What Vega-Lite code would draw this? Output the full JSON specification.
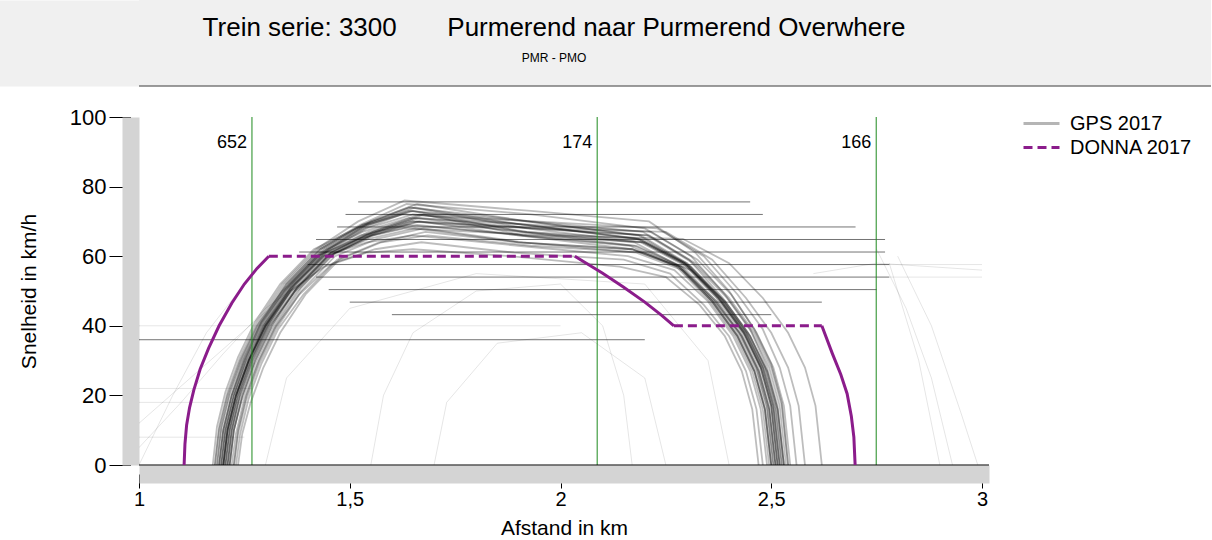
{
  "$schema": "https://vega.github.io/schema/vega-lite/v6.json",
  "padding": 0,
  "background": "white",
  "config": {"font": "Liberation Sans", "view": {"stroke": null}},
  "columns": 1,
  "spacing": 19,
  "resolve": {"scale": {"color": "independent", "strokeDash": "independent"}, "legend": {"color": "independent", "strokeDash": "independent"}},
  "datasets": {
    "donnaSolid": [
      {"seg":"a","x":1.107,"v":0},{"seg":"a","x":1.109,"v":6},{"seg":"a","x":1.113,"v":11.5},{"seg":"a","x":1.12,"v":16.5},{"seg":"a","x":1.13,"v":21.5},{"seg":"a","x":1.145,"v":27.5},{"seg":"a","x":1.165,"v":33.5},{"seg":"a","x":1.19,"v":40},{"seg":"a","x":1.22,"v":46.5},{"seg":"a","x":1.25,"v":52},{"seg":"a","x":1.28,"v":56.5},{"seg":"a","x":1.308,"v":60},
      {"seg":"c","x":2.034,"v":60},{"seg":"c","x":2.1,"v":55.1},{"seg":"c","x":2.15,"v":51.1},{"seg":"c","x":2.2,"v":46.8},{"seg":"c","x":2.24,"v":43},{"seg":"c","x":2.269,"v":40},
      {"seg":"e","x":2.62,"v":40},{"seg":"e","x":2.645,"v":32},{"seg":"e","x":2.665,"v":26},{"seg":"e","x":2.68,"v":20.5},{"seg":"e","x":2.69,"v":14},{"seg":"e","x":2.696,"v":8},{"seg":"e","x":2.699,"v":0}
    ],
    "donnaDash": [
      {"series":"DONNA 2017","seg":"b","x":1.308,"v":60},{"series":"DONNA 2017","seg":"b","x":2.034,"v":60},
      {"series":"DONNA 2017","seg":"d","x":2.269,"v":40},{"series":"DONNA 2017","seg":"d","x":2.62,"v":40}
    ],
    "legendGps": [{"series":"GPS 2017","x":1.5,"v":50}],
    "markers": [{"x":1.268,"label":"652"},{"x":2.087,"label":"174"},{"x":2.749,"label":"166"}],
    "flat": [
      {"t":"f1","x":1.52,"v":75.6},{"t":"f1","x":2.45,"v":75.6},
      {"t":"f2","x":1.49,"v":72},{"t":"f2","x":2.48,"v":72},
      {"t":"f3","x":1.47,"v":68.4},{"t":"f3","x":2.7,"v":68.4},
      {"t":"f4","x":1.42,"v":64.8},{"t":"f4","x":2.77,"v":64.8},
      {"t":"f5","x":1.38,"v":61.2},{"t":"f5","x":2.77,"v":61.2},
      {"t":"f6","x":1.4,"v":57.6},{"t":"f6","x":2.78,"v":57.6},
      {"t":"f7","x":1.42,"v":54},{"t":"f7","x":2.78,"v":54},
      {"t":"f8","x":1.45,"v":50.4},{"t":"f8","x":2.75,"v":50.4},
      {"t":"f9","x":1.5,"v":46.8},{"t":"f9","x":2.62,"v":46.8},
      {"t":"f10","x":1.6,"v":43.2},{"t":"f10","x":2.5,"v":43.2},
      {"t":"f11","x":1.0,"v":36},{"t":"f11","x":2.2,"v":36}
    ],
    "noise": [
      {"t":"n1","x":1.0,"v":5},{"t":"n1","x":1.1,"v":18},{"t":"n1","x":1.2,"v":32},{"t":"n1","x":1.3,"v":45},{"t":"n1","x":1.45,"v":58},
      {"t":"n2","x":1.0,"v":12},{"t":"n2","x":1.15,"v":28},{"t":"n2","x":1.3,"v":44},
      {"t":"n3","x":1.0,"v":0},{"t":"n3","x":1.08,"v":20},{"t":"n3","x":1.16,"v":38},{"t":"n3","x":1.25,"v":52},
      {"t":"n4","x":2.75,"v":62},{"t":"n4","x":2.82,"v":45},{"t":"n4","x":2.88,"v":25},{"t":"n4","x":2.93,"v":0},
      {"t":"n5","x":2.8,"v":60},{"t":"n5","x":2.88,"v":40},{"t":"n5","x":2.95,"v":15},{"t":"n5","x":2.99,"v":0},
      {"t":"n6","x":2.78,"v":58},{"t":"n6","x":2.85,"v":30},{"t":"n6","x":2.9,"v":0},
      {"t":"n7","x":1.55,"v":0},{"t":"n7","x":1.58,"v":20},{"t":"n7","x":1.65,"v":38},{"t":"n7","x":1.8,"v":50},{"t":"n7","x":2.0,"v":52},{"t":"n7","x":2.1,"v":40},{"t":"n7","x":2.15,"v":20},{"t":"n7","x":2.17,"v":0},
      {"t":"n8","x":1.7,"v":0},{"t":"n8","x":1.73,"v":18},{"t":"n8","x":1.85,"v":35},{"t":"n8","x":2.05,"v":38},{"t":"n8","x":2.2,"v":25},{"t":"n8","x":2.25,"v":0},
      {"t":"n9","x":1.3,"v":0},{"t":"n9","x":1.35,"v":25},{"t":"n9","x":1.5,"v":45},{"t":"n9","x":1.8,"v":55},{"t":"n9","x":2.2,"v":52},{"t":"n9","x":2.35,"v":30},{"t":"n9","x":2.4,"v":0},
      {"t":"n10","x":2.78,"v":57.6},{"t":"n10","x":3.0,"v":57.6},
      {"t":"n11","x":2.78,"v":54},{"t":"n11","x":3.0,"v":54},
      {"t":"n12","x":1.0,"v":22},{"t":"n12","x":1.27,"v":22},
      {"t":"n13","x":1.0,"v":18},{"t":"n13","x":1.27,"v":18},
      {"t":"n14","x":1.0,"v":8},{"t":"n14","x":1.25,"v":8},
      {"t":"n15","x":2.6,"v":55},{"t":"n15","x":2.75,"v":58},{"t":"n15","x":3.0,"v":56},
      {"t":"n16","x":1.0,"v":40},{"t":"n16","x":1.5,"v":40},{"t":"n16","x":2.0,"v":40}
    ],
    "gps": [
      {"t":1,"x":1.195,"v":0},{"t":1,"x":1.205,"v":10},{"t":1,"x":1.225,"v":20},{"t":1,"x":1.255,"v":30},{"t":1,"x":1.295,"v":40},{"t":1,"x":1.355,"v":51},{"t":1,"x":1.435,"v":61},{"t":1,"x":1.535,"v":68},{"t":1,"x":1.645,"v":73},{"t":1,"x":1.92,"v":70},{"t":1,"x":2.185,"v":66},{"t":1,"x":2.295,"v":58},{"t":1,"x":2.375,"v":48},{"t":1,"x":2.435,"v":38},{"t":1,"x":2.475,"v":28},{"t":1,"x":2.5,"v":17},{"t":1,"x":2.515,"v":0},
      {"t":2,"x":1.205,"v":0},{"t":2,"x":1.215,"v":10},{"t":2,"x":1.235,"v":20},{"t":2,"x":1.265,"v":30},{"t":2,"x":1.305,"v":40},{"t":2,"x":1.365,"v":51},{"t":2,"x":1.445,"v":61},{"t":2,"x":1.545,"v":67},{"t":2,"x":1.655,"v":71},{"t":2,"x":1.9,"v":67},{"t":2,"x":2.175,"v":64},{"t":2,"x":2.285,"v":57},{"t":2,"x":2.365,"v":47},{"t":2,"x":2.425,"v":38},{"t":2,"x":2.465,"v":28},{"t":2,"x":2.49,"v":17},{"t":2,"x":2.505,"v":0},
      {"t":3,"x":1.185,"v":0},{"t":3,"x":1.195,"v":11},{"t":3,"x":1.215,"v":21},{"t":3,"x":1.245,"v":31},{"t":3,"x":1.285,"v":41},{"t":3,"x":1.345,"v":52},{"t":3,"x":1.425,"v":62},{"t":3,"x":1.525,"v":69},{"t":3,"x":1.635,"v":75},{"t":3,"x":1.93,"v":72},{"t":3,"x":2.2,"v":68},{"t":3,"x":2.31,"v":60},{"t":3,"x":2.39,"v":49},{"t":3,"x":2.45,"v":39},{"t":3,"x":2.49,"v":28},{"t":3,"x":2.515,"v":17},{"t":3,"x":2.53,"v":0},
      {"t":4,"x":1.215,"v":0},{"t":4,"x":1.225,"v":10},{"t":4,"x":1.245,"v":19},{"t":4,"x":1.275,"v":29},{"t":4,"x":1.315,"v":39},{"t":4,"x":1.375,"v":50},{"t":4,"x":1.455,"v":60},{"t":4,"x":1.555,"v":66},{"t":4,"x":1.665,"v":70},{"t":4,"x":1.9,"v":66},{"t":4,"x":2.17,"v":62},{"t":4,"x":2.28,"v":57},{"t":4,"x":2.36,"v":47},{"t":4,"x":2.42,"v":37},{"t":4,"x":2.46,"v":27},{"t":4,"x":2.485,"v":16},{"t":4,"x":2.5,"v":0},
      {"t":5,"x":1.2,"v":0},{"t":5,"x":1.21,"v":10},{"t":5,"x":1.23,"v":20},{"t":5,"x":1.26,"v":30},{"t":5,"x":1.3,"v":40},{"t":5,"x":1.36,"v":51},{"t":5,"x":1.44,"v":61},{"t":5,"x":1.54,"v":68},{"t":5,"x":1.65,"v":72},{"t":5,"x":1.92,"v":69},{"t":5,"x":2.19,"v":65},{"t":5,"x":2.3,"v":58},{"t":5,"x":2.38,"v":48},{"t":5,"x":2.44,"v":38},{"t":5,"x":2.48,"v":28},{"t":5,"x":2.505,"v":17},{"t":5,"x":2.52,"v":0},
      {"t":6,"x":1.19,"v":0},{"t":6,"x":1.2,"v":10},{"t":6,"x":1.22,"v":20},{"t":6,"x":1.25,"v":31},{"t":6,"x":1.29,"v":41},{"t":6,"x":1.35,"v":52},{"t":6,"x":1.43,"v":62},{"t":6,"x":1.53,"v":69},{"t":6,"x":1.64,"v":74},{"t":6,"x":1.93,"v":70},{"t":6,"x":2.195,"v":67},{"t":6,"x":2.305,"v":59},{"t":6,"x":2.385,"v":48},{"t":6,"x":2.445,"v":38},{"t":6,"x":2.485,"v":28},{"t":6,"x":2.51,"v":17},{"t":6,"x":2.525,"v":0},
      {"t":7,"x":1.21,"v":0},{"t":7,"x":1.22,"v":10},{"t":7,"x":1.24,"v":20},{"t":7,"x":1.27,"v":30},{"t":7,"x":1.31,"v":40},{"t":7,"x":1.37,"v":50},{"t":7,"x":1.45,"v":60},{"t":7,"x":1.55,"v":66},{"t":7,"x":1.66,"v":69},{"t":7,"x":1.9,"v":66},{"t":7,"x":2.165,"v":63},{"t":7,"x":2.275,"v":57},{"t":7,"x":2.355,"v":47},{"t":7,"x":2.415,"v":37},{"t":7,"x":2.455,"v":27},{"t":7,"x":2.48,"v":16},{"t":7,"x":2.495,"v":0},
      {"t":8,"x":1.225,"v":0},{"t":8,"x":1.235,"v":9},{"t":8,"x":1.255,"v":19},{"t":8,"x":1.285,"v":29},{"t":8,"x":1.325,"v":39},{"t":8,"x":1.385,"v":50},{"t":8,"x":1.465,"v":60},{"t":8,"x":1.565,"v":65},{"t":8,"x":1.675,"v":68},{"t":8,"x":1.91,"v":64},{"t":8,"x":2.18,"v":61},{"t":8,"x":2.29,"v":56},{"t":8,"x":2.37,"v":47},{"t":8,"x":2.43,"v":37},{"t":8,"x":2.47,"v":27},{"t":8,"x":2.495,"v":16},{"t":8,"x":2.51,"v":0},
      {"t":9,"x":1.18,"v":0},{"t":9,"x":1.19,"v":11},{"t":9,"x":1.21,"v":21},{"t":9,"x":1.24,"v":31},{"t":9,"x":1.28,"v":41},{"t":9,"x":1.34,"v":52},{"t":9,"x":1.42,"v":62},{"t":9,"x":1.52,"v":70},{"t":9,"x":1.63,"v":76},{"t":9,"x":1.93,"v":73},{"t":9,"x":2.21,"v":70},{"t":9,"x":2.32,"v":61},{"t":9,"x":2.4,"v":50},{"t":9,"x":2.46,"v":39},{"t":9,"x":2.5,"v":29},{"t":9,"x":2.525,"v":18},{"t":9,"x":2.54,"v":0},
      {"t":10,"x":1.2,"v":0},{"t":10,"x":1.21,"v":10},{"t":10,"x":1.23,"v":20},{"t":10,"x":1.26,"v":30},{"t":10,"x":1.3,"v":40},{"t":10,"x":1.36,"v":51},{"t":10,"x":1.44,"v":60},{"t":10,"x":1.54,"v":64},{"t":10,"x":1.65,"v":66},{"t":10,"x":1.9,"v":63},{"t":10,"x":2.16,"v":60},{"t":10,"x":2.27,"v":56},{"t":10,"x":2.35,"v":47},{"t":10,"x":2.41,"v":37},{"t":10,"x":2.45,"v":27},{"t":10,"x":2.475,"v":16},{"t":10,"x":2.49,"v":0},
      {"t":11,"x":1.195,"v":0},{"t":11,"x":1.205,"v":10},{"t":11,"x":1.225,"v":20},{"t":11,"x":1.255,"v":30},{"t":11,"x":1.295,"v":40},{"t":11,"x":1.355,"v":50},{"t":11,"x":1.435,"v":60},{"t":11,"x":1.535,"v":66},{"t":11,"x":1.645,"v":70},{"t":11,"x":1.93,"v":68},{"t":11,"x":2.205,"v":66},{"t":11,"x":2.315,"v":58},{"t":11,"x":2.395,"v":48},{"t":11,"x":2.455,"v":38},{"t":11,"x":2.495,"v":28},{"t":11,"x":2.52,"v":17},{"t":11,"x":2.535,"v":0},
      {"t":12,"x":1.215,"v":0},{"t":12,"x":1.225,"v":10},{"t":12,"x":1.245,"v":20},{"t":12,"x":1.275,"v":30},{"t":12,"x":1.315,"v":40},{"t":12,"x":1.375,"v":51},{"t":12,"x":1.455,"v":61},{"t":12,"x":1.555,"v":67},{"t":12,"x":1.665,"v":72},{"t":12,"x":1.92,"v":67},{"t":12,"x":2.19,"v":64},{"t":12,"x":2.3,"v":57},{"t":12,"x":2.38,"v":47},{"t":12,"x":2.44,"v":37},{"t":12,"x":2.48,"v":27},{"t":12,"x":2.505,"v":16},{"t":12,"x":2.52,"v":0},
      {"t":13,"x":1.205,"v":0},{"t":13,"x":1.215,"v":10},{"t":13,"x":1.235,"v":21},{"t":13,"x":1.265,"v":31},{"t":13,"x":1.305,"v":41},{"t":13,"x":1.365,"v":52},{"t":13,"x":1.445,"v":62},{"t":13,"x":1.545,"v":69},{"t":13,"x":1.655,"v":74},{"t":13,"x":1.91,"v":69},{"t":13,"x":2.18,"v":65},{"t":13,"x":2.29,"v":58},{"t":13,"x":2.37,"v":48},{"t":13,"x":2.43,"v":38},{"t":13,"x":2.47,"v":28},{"t":13,"x":2.495,"v":17},{"t":13,"x":2.51,"v":0},
      {"t":14,"x":1.23,"v":0},{"t":14,"x":1.24,"v":9},{"t":14,"x":1.26,"v":19},{"t":14,"x":1.29,"v":29},{"t":14,"x":1.33,"v":39},{"t":14,"x":1.39,"v":49},{"t":14,"x":1.47,"v":59},{"t":14,"x":1.57,"v":64},{"t":14,"x":1.68,"v":67},{"t":14,"x":1.9,"v":64},{"t":14,"x":2.17,"v":62},{"t":14,"x":2.28,"v":57},{"t":14,"x":2.36,"v":47},{"t":14,"x":2.42,"v":37},{"t":14,"x":2.46,"v":27},{"t":14,"x":2.485,"v":16},{"t":14,"x":2.5,"v":0},
      {"t":15,"x":1.19,"v":0},{"t":15,"x":1.2,"v":10},{"t":15,"x":1.22,"v":20},{"t":15,"x":1.25,"v":30},{"t":15,"x":1.29,"v":40},{"t":15,"x":1.35,"v":51},{"t":15,"x":1.43,"v":61},{"t":15,"x":1.53,"v":67},{"t":15,"x":1.64,"v":71},{"t":15,"x":1.94,"v":69},{"t":15,"x":2.215,"v":67},{"t":15,"x":2.325,"v":59},{"t":15,"x":2.405,"v":49},{"t":15,"x":2.465,"v":38},{"t":15,"x":2.505,"v":28},{"t":15,"x":2.53,"v":17},{"t":15,"x":2.545,"v":0},
      {"t":16,"x":1.2,"v":0},{"t":16,"x":1.21,"v":10},{"t":16,"x":1.23,"v":20},{"t":16,"x":1.26,"v":30},{"t":16,"x":1.3,"v":41},{"t":16,"x":1.36,"v":52},{"t":16,"x":1.44,"v":62},{"t":16,"x":1.54,"v":69},{"t":16,"x":1.65,"v":73},{"t":16,"x":1.91,"v":67},{"t":16,"x":2.175,"v":63},{"t":16,"x":2.285,"v":57},{"t":16,"x":2.365,"v":47},{"t":16,"x":2.425,"v":37},{"t":16,"x":2.465,"v":27},{"t":16,"x":2.49,"v":16},{"t":16,"x":2.505,"v":0},
      {"t":17,"x":1.21,"v":0},{"t":17,"x":1.22,"v":10},{"t":17,"x":1.24,"v":21},{"t":17,"x":1.27,"v":31},{"t":17,"x":1.31,"v":41},{"t":17,"x":1.37,"v":52},{"t":17,"x":1.45,"v":62},{"t":17,"x":1.55,"v":70},{"t":17,"x":1.66,"v":75},{"t":17,"x":1.92,"v":70},{"t":17,"x":2.19,"v":66},{"t":17,"x":2.3,"v":58},{"t":17,"x":2.38,"v":48},{"t":17,"x":2.44,"v":38},{"t":17,"x":2.48,"v":28},{"t":17,"x":2.505,"v":17},{"t":17,"x":2.52,"v":0},
      {"t":18,"x":1.185,"v":0},{"t":18,"x":1.195,"v":10},{"t":18,"x":1.215,"v":20},{"t":18,"x":1.245,"v":30},{"t":18,"x":1.285,"v":40},{"t":18,"x":1.345,"v":50},{"t":18,"x":1.425,"v":60},{"t":18,"x":1.525,"v":66},{"t":18,"x":1.635,"v":69},{"t":18,"x":1.92,"v":66},{"t":18,"x":2.2,"v":64},{"t":18,"x":2.31,"v":57},{"t":18,"x":2.39,"v":47},{"t":18,"x":2.45,"v":37},{"t":18,"x":2.49,"v":27},{"t":18,"x":2.515,"v":16},{"t":18,"x":2.53,"v":0},
      {"t":19,"x":1.22,"v":0},{"t":19,"x":1.23,"v":9},{"t":19,"x":1.25,"v":19},{"t":19,"x":1.28,"v":29},{"t":19,"x":1.32,"v":39},{"t":19,"x":1.38,"v":49},{"t":19,"x":1.46,"v":58},{"t":19,"x":1.56,"v":62},{"t":19,"x":1.67,"v":64},{"t":19,"x":1.89,"v":61},{"t":19,"x":2.15,"v":59},{"t":19,"x":2.26,"v":55},{"t":19,"x":2.34,"v":46},{"t":19,"x":2.4,"v":37},{"t":19,"x":2.44,"v":27},{"t":19,"x":2.465,"v":16},{"t":19,"x":2.48,"v":0},
      {"t":20,"x":1.2,"v":0},{"t":20,"x":1.21,"v":10},{"t":20,"x":1.23,"v":20},{"t":20,"x":1.26,"v":30},{"t":20,"x":1.3,"v":40},{"t":20,"x":1.36,"v":50},{"t":20,"x":1.44,"v":60},{"t":20,"x":1.54,"v":66},{"t":20,"x":1.65,"v":70},{"t":20,"x":1.92,"v":67},{"t":20,"x":2.185,"v":65},{"t":20,"x":2.295,"v":58},{"t":20,"x":2.375,"v":48},{"t":20,"x":2.435,"v":38},{"t":20,"x":2.475,"v":28},{"t":20,"x":2.5,"v":17},{"t":20,"x":2.515,"v":0},
      {"t":21,"x":1.235,"v":0},{"t":21,"x":1.245,"v":9},{"t":21,"x":1.265,"v":18},{"t":21,"x":1.295,"v":28},{"t":21,"x":1.335,"v":38},{"t":21,"x":1.395,"v":49},{"t":21,"x":1.475,"v":59},{"t":21,"x":1.575,"v":64},{"t":21,"x":1.685,"v":66},{"t":21,"x":1.93,"v":63},{"t":21,"x":2.2,"v":61},{"t":21,"x":2.31,"v":56},{"t":21,"x":2.39,"v":47},{"t":21,"x":2.45,"v":37},{"t":21,"x":2.49,"v":27},{"t":21,"x":2.515,"v":16},{"t":21,"x":2.53,"v":0},
      {"t":22,"x":1.175,"v":0},{"t":22,"x":1.185,"v":11},{"t":22,"x":1.205,"v":21},{"t":22,"x":1.235,"v":31},{"t":22,"x":1.275,"v":41},{"t":22,"x":1.335,"v":52},{"t":22,"x":1.415,"v":62},{"t":22,"x":1.515,"v":68},{"t":22,"x":1.625,"v":72},{"t":22,"x":1.94,"v":70},{"t":22,"x":2.23,"v":68},{"t":22,"x":2.34,"v":60},{"t":22,"x":2.42,"v":49},{"t":22,"x":2.48,"v":39},{"t":22,"x":2.52,"v":28},{"t":22,"x":2.545,"v":17},{"t":22,"x":2.56,"v":0},
      {"t":23,"x":1.205,"v":0},{"t":23,"x":1.215,"v":10},{"t":23,"x":1.235,"v":20},{"t":23,"x":1.265,"v":30},{"t":23,"x":1.305,"v":40},{"t":23,"x":1.365,"v":50},{"t":23,"x":1.445,"v":60},{"t":23,"x":1.545,"v":65},{"t":23,"x":1.655,"v":68},{"t":23,"x":1.9,"v":64},{"t":23,"x":2.17,"v":62},{"t":23,"x":2.28,"v":57},{"t":23,"x":2.36,"v":47},{"t":23,"x":2.42,"v":37},{"t":23,"x":2.46,"v":27},{"t":23,"x":2.485,"v":16},{"t":23,"x":2.5,"v":0},
      {"t":24,"x":1.195,"v":0},{"t":24,"x":1.205,"v":10},{"t":24,"x":1.225,"v":20},{"t":24,"x":1.255,"v":31},{"t":24,"x":1.295,"v":41},{"t":24,"x":1.355,"v":52},{"t":24,"x":1.435,"v":62},{"t":24,"x":1.535,"v":69},{"t":24,"x":1.645,"v":74},{"t":24,"x":1.92,"v":68},{"t":24,"x":2.195,"v":64},{"t":24,"x":2.305,"v":57},{"t":24,"x":2.385,"v":47},{"t":24,"x":2.445,"v":37},{"t":24,"x":2.485,"v":27},{"t":24,"x":2.51,"v":16},{"t":24,"x":2.525,"v":0},
      {"t":25,"x":1.215,"v":0},{"t":25,"x":1.225,"v":10},{"t":25,"x":1.245,"v":20},{"t":25,"x":1.275,"v":30},{"t":25,"x":1.315,"v":40},{"t":25,"x":1.375,"v":51},{"t":25,"x":1.455,"v":61},{"t":25,"x":1.555,"v":67},{"t":25,"x":1.665,"v":71},{"t":25,"x":1.93,"v":68},{"t":25,"x":2.21,"v":66},{"t":25,"x":2.32,"v":58},{"t":25,"x":2.4,"v":48},{"t":25,"x":2.46,"v":38},{"t":25,"x":2.5,"v":28},{"t":25,"x":2.525,"v":17},{"t":25,"x":2.54,"v":0},
      {"t":26,"x":1.2,"v":0},{"t":26,"x":1.21,"v":10},{"t":26,"x":1.23,"v":20},{"t":26,"x":1.26,"v":30},{"t":26,"x":1.3,"v":40},{"t":26,"x":1.36,"v":50},{"t":26,"x":1.44,"v":57},{"t":26,"x":1.54,"v":61},{"t":26,"x":1.65,"v":62},{"t":26,"x":1.88,"v":60},{"t":26,"x":2.14,"v":57},{"t":26,"x":2.25,"v":54},{"t":26,"x":2.33,"v":46},{"t":26,"x":2.39,"v":37},{"t":26,"x":2.43,"v":27},{"t":26,"x":2.455,"v":16},{"t":26,"x":2.47,"v":0},
      {"t":27,"x":1.19,"v":0},{"t":27,"x":1.2,"v":10},{"t":27,"x":1.22,"v":20},{"t":27,"x":1.25,"v":30},{"t":27,"x":1.29,"v":41},{"t":27,"x":1.35,"v":52},{"t":27,"x":1.43,"v":62},{"t":27,"x":1.53,"v":69},{"t":27,"x":1.64,"v":73},{"t":27,"x":1.92,"v":69},{"t":27,"x":2.185,"v":65},{"t":27,"x":2.295,"v":58},{"t":27,"x":2.375,"v":48},{"t":27,"x":2.435,"v":38},{"t":27,"x":2.475,"v":28},{"t":27,"x":2.5,"v":17},{"t":27,"x":2.515,"v":0},
      {"t":28,"x":1.21,"v":0},{"t":28,"x":1.22,"v":10},{"t":28,"x":1.24,"v":20},{"t":28,"x":1.27,"v":30},{"t":28,"x":1.31,"v":40},{"t":28,"x":1.37,"v":50},{"t":28,"x":1.45,"v":60},{"t":28,"x":1.55,"v":66},{"t":28,"x":1.66,"v":70},{"t":28,"x":1.95,"v":68},{"t":28,"x":2.25,"v":67},{"t":28,"x":2.36,"v":59},{"t":28,"x":2.44,"v":48},{"t":28,"x":2.5,"v":38},{"t":28,"x":2.54,"v":28},{"t":28,"x":2.565,"v":17},{"t":28,"x":2.58,"v":0},
      {"t":29,"x":1.225,"v":0},{"t":29,"x":1.235,"v":10},{"t":29,"x":1.255,"v":20},{"t":29,"x":1.285,"v":30},{"t":29,"x":1.325,"v":40},{"t":29,"x":1.385,"v":51},{"t":29,"x":1.465,"v":61},{"t":29,"x":1.565,"v":67},{"t":29,"x":1.675,"v":72},{"t":29,"x":1.91,"v":66},{"t":29,"x":2.18,"v":63},{"t":29,"x":2.29,"v":57},{"t":29,"x":2.37,"v":47},{"t":29,"x":2.43,"v":37},{"t":29,"x":2.47,"v":27},{"t":29,"x":2.495,"v":16},{"t":29,"x":2.51,"v":0},
      {"t":30,"x":1.18,"v":0},{"t":30,"x":1.19,"v":10},{"t":30,"x":1.21,"v":20},{"t":30,"x":1.24,"v":30},{"t":30,"x":1.28,"v":40},{"t":30,"x":1.34,"v":50},{"t":30,"x":1.42,"v":60},{"t":30,"x":1.52,"v":65},{"t":30,"x":1.63,"v":68},{"t":30,"x":1.96,"v":66},{"t":30,"x":2.29,"v":65},{"t":30,"x":2.4,"v":58},{"t":30,"x":2.48,"v":48},{"t":30,"x":2.54,"v":38},{"t":30,"x":2.58,"v":28},{"t":30,"x":2.605,"v":17},{"t":30,"x":2.62,"v":0}
    ]
  },
  "concat": [
    {
      "width": 1072,
      "height": 86,
      "view": {"fill": "#f0f0f0", "stroke": null},
      "title": {
        "text": "Trein serie: 3300\u00a0\u00a0\u00a0\u00a0\u00a0\u00a0\u00a0Purmerend naar Purmerend Overwhere",
        "subtitle": "PMR - PMO",
        "anchor": "middle",
        "frame": "group",
        "dx": -121,
        "offset": -64,
        "font": "Liberation Sans",
        "fontSize": 26,
        "fontWeight": "normal",
        "color": "#000000",
        "subtitleFont": "Liberation Sans",
        "subtitleFontSize": 12,
        "subtitleColor": "#000000",
        "subtitlePadding": 12
      },
      "data": {"values": [{"k": 1}]},
      "mark": {"type": "rule", "color": "#7a7a7a", "strokeWidth": 1.5},
      "encoding": {
        "y": {"datum": 0, "type": "quantitative", "scale": {"domain": [0, 86]},
          "axis": {"orient": "left", "offset": 70, "domainWidth": 140, "domainColor": "#f0f0f0", "ticks": false, "labels": false, "title": null, "grid": false}}
      }
    },
    {
      "width": 850,
      "height": 348,
      "layer": [
        {
          "data": {"name": "noise"},
          "mark": {"type": "line", "color": "#000000", "opacity": 0.1, "strokeWidth": 1, "clip": true},
          "encoding": {
            "x": {"field": "x", "type": "quantitative",
              "scale": {"domain": [1, 3.0166], "nice": false, "zero": false},
              "axis": {"values": [1, 1.5, 2, 2.5, 3], "format": "~g", "labelExpr": "replace(datum.label, '.', ',')",
                "title": "Afstand in km", "offset": 9, "domainWidth": 18, "domainColor": "#d4d4d4",
                "tickSize": 14, "tickColor": "#000000", "tickWidth": 1,
                "labelFontSize": 20, "labelColor": "#000000", "labelPadding": 1, "labelFlush": false,
                "titleFontSize": 21, "titleFontWeight": "normal", "titleColor": "#000000", "titlePadding": 8, "grid": false}},
            "y": {"field": "v", "type": "quantitative",
              "scale": {"domain": [0, 100], "nice": false, "zero": false},
              "axis": {"values": [0, 20, 40, 60, 80, 100], "title": ["\u00a0", "Snelheid in km/h"],
                "offset": 8.5, "domainWidth": 17, "domainColor": "#d4d4d4",
                "tickSize": 21.5, "tickColor": "#000000", "tickWidth": 1,
                "labelFontSize": 22, "labelColor": "#000000", "labelPadding": 3,
                "titleFontSize": 21, "titleFontWeight": "normal", "titleColor": "#000000", "titlePadding": 30, "titleLineHeight": 18, "grid": false}},
            "detail": {"field": "t"}
          }
        },
        {
          "data": {"name": "flat"},
          "mark": {"type": "line", "color": "#000000", "opacity": 0.55, "strokeWidth": 1, "clip": true},
          "encoding": {
            "x": {"field": "x", "type": "quantitative"},
            "y": {"field": "v", "type": "quantitative"},
            "detail": {"field": "t"}
          }
        },
        {
          "data": {"name": "gps"},
          "mark": {"type": "line", "color": "#000000", "opacity": 0.26, "strokeWidth": 1.8, "clip": true},
          "encoding": {
            "x": {"field": "x", "type": "quantitative"},
            "y": {"field": "v", "type": "quantitative"},
            "detail": {"field": "t"}
          }
        },
        {
          "data": {"name": "markers"},
          "mark": {"type": "rule", "color": "#1e8a1e", "strokeWidth": 1},
          "encoding": {
            "x": {"field": "x", "type": "quantitative"}
          }
        },
        {
          "data": {"name": "markers"},
          "mark": {"type": "text", "align": "right", "baseline": "middle", "dx": -5, "fontSize": 18, "color": "#000000"},
          "encoding": {
            "x": {"field": "x", "type": "quantitative"},
            "y": {"datum": 92.5, "type": "quantitative"},
            "text": {"field": "label"}
          }
        },
        {
          "data": {"values": [{"k": 1}]},
          "mark": {"type": "rule", "color": "#000000", "strokeWidth": 1.2},
          "encoding": {
            "y": {"datum": 0, "type": "quantitative"}
          }
        },
        {
          "data": {"name": "donnaSolid"},
          "mark": {"type": "line", "color": "#8b1c8b", "strokeWidth": 3},
          "encoding": {
            "x": {"field": "x", "type": "quantitative"},
            "y": {"field": "v", "type": "quantitative"},
            "detail": {"field": "seg"}
          }
        },
        {
          "data": {"name": "donnaDash"},
          "mark": {"type": "line", "strokeWidth": 3},
          "encoding": {
            "x": {"field": "x", "type": "quantitative"},
            "y": {"field": "v", "type": "quantitative"},
            "detail": {"field": "seg"},
            "color": {"field": "series", "type": "nominal",
              "scale": {"domain": ["GPS 2017", "DONNA 2017"], "range": ["#b5b5b5", "#8b1c8b"]},
              "legend": {"title": null, "orient": "none", "legendX": 889, "legendY": -7, "labelFontSize": 20, "labelColor": "#000000", "symbolSize": 576, "symbolStrokeWidth": 3, "labelOffset": 15, "rowPadding": 0, "symbolType": "M-1.5,0H1.5"}},
            "strokeDash": {"field": "series", "type": "nominal",
              "scale": {"domain": ["GPS 2017", "DONNA 2017"], "range": [[1, 0], [9, 5]]},
              "legend": {"title": null, "orient": "none", "legendX": 889, "legendY": -7, "labelFontSize": 20, "labelColor": "#000000", "symbolSize": 576, "symbolStrokeWidth": 3, "labelOffset": 15, "rowPadding": 0, "symbolType": "M-1.5,0H1.5"}}
          }
        },
        {
          "data": {"name": "legendGps"},
          "mark": {"type": "line", "strokeWidth": 3},
          "encoding": {
            "x": {"field": "x", "type": "quantitative"},
            "y": {"field": "v", "type": "quantitative"},
            "color": {"field": "series", "type": "nominal"},
            "strokeDash": {"field": "series", "type": "nominal"}
          }
        }
      ]
    }
  ]
}
